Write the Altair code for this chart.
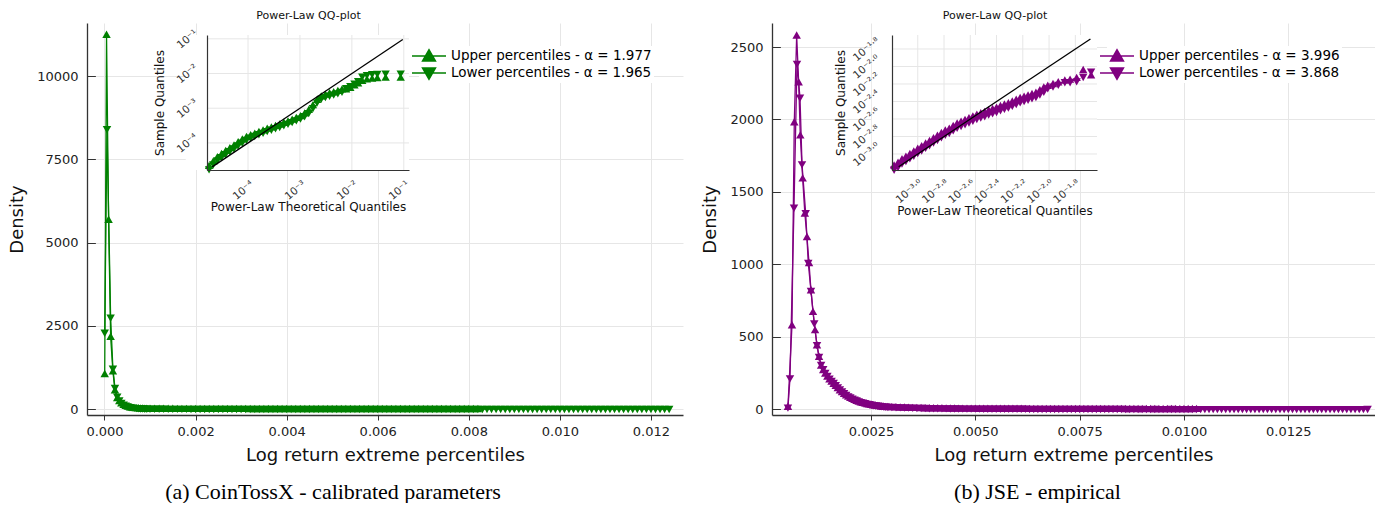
import altair as alt
import pandas as pd

GREEN = "#008000"
PURPLE = "#800080"

# ---------------- main density data (x in units of 1e-4) ----------------
# (a) CoinTossX
CTX_UP_HEAD_X = [0.05, 0.45, 0.9, 1.35, 1.85, 2.3, 2.8, 3.25, 3.7, 4.2, 4.65, 5.1, 5.6, 6.05, 6.5, 7.0, 7.45, 7.9, 8.4, 8.85, 9.3]
CTX_UP_HEAD_Y = [1050, 11240, 5680, 2170, 1130, 560, 330, 235, 170, 125, 92, 70, 53, 41, 32, 25, 20, 16, 13, 11, 9]
CTX_LO_HEAD_X = [0.05, 0.55, 1.35, 1.85, 2.3, 2.8, 3.25, 3.7, 4.2, 4.65, 5.1, 5.6, 6.05, 6.5, 7.0, 7.45, 7.9, 8.4, 8.85, 9.3]
CTX_LO_HEAD_Y = [2290, 8400, 2740, 1210, 630, 370, 255, 180, 132, 98, 74, 56, 43, 34, 27, 21, 17, 14, 11, 9]
CTX_TAIL_X = [10, 11, 12, 13, 14, 15, 16, 17, 18, 19, 20, 21, 22, 23, 24, 25, 26, 27, 28, 29,
              30, 31, 32, 33, 34, 35, 36, 37, 38, 39, 40, 41, 42, 43, 44, 45, 46, 47, 48, 49,
              50, 51, 52, 53, 54, 55, 56, 57, 58, 59, 60, 61, 62, 63, 64, 65, 66, 67, 68, 69,
              70, 71, 72, 73, 74, 75, 76, 77, 78, 79, 80, 81, 82, 83, 84, 85, 86, 87, 88, 89,
              90, 91, 92, 93, 94, 95, 96, 97, 98, 99, 100, 101, 102, 103, 104, 105, 106, 107, 108, 109,
              110, 111, 112, 113, 114, 115, 116, 117, 118, 119, 120, 121, 122, 123, 124]
CTX_UP_TAIL_Y = [8, 7, 6, 6, 5, 5, 4, 4, 4, 3,
                 3, 3, 3, 2, 2, 2, 2, 2, 2, 2,
                 2, 2, 1, 1, 1, 1, 1, 1, 1, 1,
                 1, 1, 1, 1, 1, 1, 1, 1, 1, 1,
                 1, 1, 1, 1, 1, 0, 1, 0, 1, 0,
                 0, 1, 0, 0, 1, 0, 0, 0, 1, 0,
                 0, 0, 0, 0, 0, 0, 0, 0, 0, 0,
                 0, 0, 1]
CTX_LO_TAIL_Y = [8, 7, 7, 6, 5, 5, 4, 4, 4, 3,
                 3, 3, 3, 3, 2, 2, 2, 2, 2, 2,
                 2, 2, 2, 1, 1, 1, 1, 1, 1, 1,
                 1, 1, 1, 1, 1, 1, 1, 1, 1, 1,
                 1, 1, 1, 1, 1, 1, 0, 1, 1, 0,
                 1, 0, 1, 0, 0, 1, 0, 0, 1, 0,
                 0, 0, 1, 0, 0, 0, 0, 1, 0, 0,
                 0, 0, 0, 0, 0, 0, 0, 0, 0, 0,
                 0, 0, 0, 0, 0, 0, 0, 0, 0, 0,
                 0, 0, 0, 0, 0, 0, 0, 0, 0, 0,
                 0, 0, 0, 0, 0, 0, 0, 0, 0, 0,
                 0, 0, 0, 0, 1]

# (b) JSE
JSE_UP_HEAD_X = [5.1, 6.07, 6.62, 7.19, 7.67, 8.06, 8.63, 9.15, 9.66, 10.15, 10.62, 11.1, 11.6, 12.06, 12.55, 13.05,
                 13.55, 14.05, 14.55, 15.05, 15.55, 16.05, 16.55, 17.05, 17.55, 18.05, 18.55, 19.05, 19.55, 20.05,
                 20.55, 21.05, 21.55, 22.05, 22.55, 23.05, 23.55, 24.05, 24.55, 25.05, 25.55, 26.05, 26.55, 27.05,
                 27.55, 28.05, 28.55, 29.05]
JSE_UP_HEAD_Y = [16, 579, 1981, 2579, 2257, 1890, 1593, 1350, 1188, 1009, 820, 671, 545, 441, 361, 300,
                 270, 245, 225, 205, 190, 175, 160, 145, 130, 118, 105, 95, 86, 78,
                 70, 63, 57, 52, 47, 43, 39, 35, 32, 29, 26, 24, 22, 20,
                 18, 16, 15, 14]
JSE_LO_HEAD_X = [5.1, 5.59, 6.55, 7.27, 7.99, 8.47, 9.35, 9.97, 10.62, 11.41, 12.06, 12.55, 13.05, 13.55, 14.05,
                 14.55, 15.05, 15.55, 16.05, 16.55, 17.05, 17.55, 18.05, 18.55, 19.05, 19.55, 20.05, 20.55, 21.05,
                 21.55, 22.05, 22.55, 23.05, 23.55, 24.05, 24.55, 25.05, 25.55, 26.05, 26.55, 27.05, 27.55, 28.05,
                 28.55, 29.05]
JSE_LO_HEAD_Y = [10, 212, 1391, 2384, 2150, 1690, 1352, 1009, 816, 591, 441, 360, 305, 275, 250,
                 228, 210, 195, 180, 165, 150, 135, 122, 110, 98, 88, 80, 72, 65,
                 59, 53, 48, 44, 40, 36, 33, 30, 27, 25, 23, 21, 19, 17,
                 16, 15]
JSE_TAIL_X = [30, 31, 32, 33, 34, 35, 36, 37, 38, 39, 40, 41, 42, 43, 44, 45, 46, 47, 48, 49,
              50, 51, 52, 53, 54, 55, 56, 57, 58, 59, 60, 61, 62, 63, 64, 65, 66, 67, 68, 69,
              70, 71, 72, 73, 74, 75, 76, 77, 78, 79, 80, 81, 82, 83, 84, 85, 86, 87, 88, 89,
              90, 91, 92, 93, 94, 95, 96, 97, 98, 99, 100, 101, 102, 103, 104, 105, 106, 107, 108, 109,
              110, 111, 112, 113, 114, 115, 116, 117, 118, 119, 120, 121, 122, 123, 124, 125, 126, 127, 128, 129,
              130, 131, 132, 133, 134, 135, 136, 137, 138, 139, 140, 141, 142, 143, 144]
JSE_UP_TAIL_Y = [13, 12, 11, 10, 9, 8, 8, 7, 6, 6,
                 5, 5, 5, 4, 4, 4, 3, 3, 3, 3,
                 3, 2, 2, 2, 2, 2, 2, 2, 2, 2,
                 2, 2, 1, 1, 1, 1, 1, 1, 1, 1,
                 1, 1, 1, 1, 1, 1, 1, 1, 1, 1,
                 1, 1, 1, 1, 1, 1, 0, 0, 1, 0,
                 0, 1, 0, 0, 0, 0, 0, 0, 0, 0,
                 0, 0, 0, 1]
JSE_LO_TAIL_Y = [14, 13, 12, 11, 10, 9, 8, 8, 7, 6,
                 6, 5, 5, 5, 4, 4, 4, 3, 3, 3,
                 3, 3, 2, 2, 2, 2, 2, 2, 2, 2,
                 2, 2, 2, 1, 1, 1, 1, 1, 1, 1,
                 1, 1, 1, 1, 1, 1, 1, 1, 1, 1,
                 1, 1, 1, 1, 1, 1, 1, 0, 1, 0,
                 1, 0, 0, 1, 0, 0, 0, 1, 0, 0,
                 0, 0, 0, 0, 0, 0, 0, 0, 0, 0,
                 0, 0, 0, 0, 0, 0, 0, 0, 0, 0,
                 0, 0, 0, 0, 0, 0, 0, 0, 0, 0,
                 0, 0, 0, 0, 0, 0, 0, 0, 0, 0,
                 0, 0, 0, 0, 1]

# ---------------- QQ inset data (log10 values) ----------------
CTX_QQ_X = [-4.75, -4.67, -4.59, -4.51, -4.43, -4.35, -4.27, -4.19, -4.11, -4.03, -3.95, -3.87, -3.79, -3.71,
            -3.63, -3.55, -3.47, -3.39, -3.31, -3.23, -3.15, -3.07, -2.99, -2.91, -2.83, -2.75, -2.67, -2.59,
            -2.51, -2.43, -2.35, -2.27, -2.19,
            -2.11, -2.03, -1.95, -1.88, -1.80, -1.71, -1.61, -1.51, -1.35, -1.06]
CTX_QQ_UP = [-4.66, -4.53, -4.41, -4.32, -4.23, -4.15, -4.07, -3.98, -3.90, -3.83, -3.78, -3.73, -3.68, -3.64,
             -3.59, -3.55, -3.51, -3.47, -3.42, -3.38, -3.33, -3.28, -3.23, -3.15, -3.05, -2.91, -2.76, -2.66,
             -2.61, -2.57, -2.54, -2.50, -2.46,
             -2.46, -2.41, -2.34, -2.28, -2.21, -2.17, -2.15, -2.13, -2.12, -2.12]
CTX_QQ_LO = [-4.76, -4.62, -4.50, -4.41, -4.32, -4.24, -4.16, -4.07, -3.99, -3.91, -3.85, -3.80, -3.75, -3.71,
             -3.66, -3.62, -3.58, -3.54, -3.49, -3.45, -3.40, -3.35, -3.30, -3.23, -3.14, -3.00, -2.84, -2.73,
             -2.68, -2.64, -2.61, -2.57, -2.53,
             -2.42, -2.36, -2.29, -2.22, -2.09, -2.05, -2.02, -2.01, -2.00, -2.00]
CTX_QQ_REF = [-4.69, -1.02]

JSE_QQ_X = [-3.18, -3.15, -3.12, -3.09, -3.06, -3.03, -3.00, -2.97, -2.94, -2.91, -2.88, -2.85, -2.82, -2.79,
            -2.76, -2.73, -2.70, -2.67, -2.64, -2.61, -2.58, -2.55, -2.52, -2.49, -2.46, -2.43, -2.40, -2.37,
            -2.34, -2.31, -2.28, -2.25, -2.22, -2.19, -2.16, -2.13, -2.10, -2.07, -2.04,
            -2.01, -1.97, -1.93, -1.88, -1.84, -1.79, -1.74, -1.68]
JSE_QQ_UP = [-3.13, -3.10, -3.06, -3.03, -3.00, -2.97, -2.94, -2.91, -2.88, -2.85, -2.82, -2.79, -2.76, -2.73,
             -2.71, -2.68, -2.65, -2.63, -2.61, -2.59, -2.57, -2.55, -2.535, -2.52, -2.50, -2.485, -2.47, -2.45,
             -2.435, -2.42, -2.40, -2.38, -2.36, -2.345, -2.33, -2.315, -2.30, -2.27, -2.24,
             -2.22, -2.20, -2.18, -2.16, -2.15, -2.13, -2.04, -2.10]
JSE_QQ_LO = [-3.18, -3.15, -3.11, -3.08, -3.05, -3.02, -2.99, -2.96, -2.93, -2.90, -2.87, -2.84, -2.81, -2.78,
             -2.76, -2.73, -2.70, -2.68, -2.66, -2.64, -2.62, -2.60, -2.585, -2.57, -2.55, -2.535, -2.52, -2.50,
             -2.485, -2.47, -2.45, -2.43, -2.41, -2.395, -2.38, -2.365, -2.35, -2.32, -2.29,
             -2.25, -2.23, -2.21, -2.18, -2.18, -2.17, -2.12, -2.06]
JSE_QQ_REF = [-3.145, -1.685]

CTX_LABELS = ["Upper percentiles - \u03b1 = 1.977", "Lower percentiles - \u03b1 = 1.965"]
JSE_LABELS = ["Upper percentiles - \u03b1 = 3.996", "Lower percentiles - \u03b1 = 3.868"]

CTX_XTICKS = [0.0, 0.002, 0.004, 0.006, 0.008, 0.010, 0.012]
CTX_YTICKS = [0, 2500, 5000, 7500, 10000]
JSE_XTICKS = [0.0025, 0.0050, 0.0075, 0.0100, 0.0125]
JSE_YTICKS = [0, 500, 1000, 1500, 2000, 2500]
CTX_QQ_TICKS = [-4, -3, -2, -1]
JSE_QQ_TICKS = [-3.0, -2.8, -2.6, -2.4, -2.2, -2.0, -1.8]

# marker shapes
TRI_UP = "M0,-1L1,0.75L-1,0.75Z"
TRI_DOWN = "M0,1L1,-0.75L-1,-0.75Z"
# legend symbols: triangle with a thin horizontal bar through it
LEG_UP = "M-2.2,-0.085H2.2V0.085H-2.2ZM0,-1L1,0.75L-1,0.75Z"
LEG_DOWN = "M-2.2,-0.085H2.2V0.085H-2.2ZM0,1L-1,-0.75L1,-0.75Z"

SUP = {"0": "\u2070", "1": "\u00b9", "2": "\u00b2", "3": "\u00b3", "4": "\u2074",
       "5": "\u2075", "6": "\u2076", "7": "\u2077", "8": "\u2078", "9": "\u2079"}


def pow_label(fmt):
    e = f"format(datum.value, '{fmt}')"
    e = f"replace({e}, '\u2212', '\u207b')"
    e = f"replace({e}, '-', '\u207b')"
    e = f"replace({e}, '.', '\u00b7')"
    for d, s in SUP.items():
        e = f"replace({e}, regexp('{d}', 'g'), '{s}')"
    return "'10' + " + e


def main_frame(hx, hy, tx, ty, label):
    xs = list(hx) + list(tx[:len(ty)])
    ys = list(hy) + list(ty)
    return pd.DataFrame({"x": [v * 1e-4 for v in xs], "y": ys, "series": label})


def make_panel(c):
    color = c["color"]
    W, H = c["w"], c["h"]
    up_df = main_frame(c["uhx"], c["uhy"], c["tx"], c["uty"], c["labels"][0])
    lo_df = main_frame(c["lhx"], c["lhy"], c["tx"], c["lty"], c["labels"][1])
    mdf = pd.concat([up_df, lo_df])
    qup = pd.DataFrame({"x": c["qx"], "y": c["qu"]})
    qlo = pd.DataFrame({"x": c["qx"], "y": c["ql"]})
    ref = pd.DataFrame({"x": c["qref"], "y": c["qref"]})
    qxd, qyd = c["qxdom"], c["qydom"]
    bg = pd.DataFrame({"x0": [c["bgx"]], "x1": [qxd[1]], "y0": [qyd[0]], "y1": [qyd[1]]})
    gx = pd.DataFrame({"v": c["qticks"], "a": qyd[0], "b": qyd[1]})
    gy = pd.DataFrame({"v": c["qticks"], "a": qxd[0], "b": qxd[1]})

    legend = alt.Legend(orient="none", legendX=c["legx"], legendY=c["legy"], title=None,
                        fillColor="white", padding=2, labelFont="DejaVu Sans", labelFontSize=13.5,
                        labelColor="black", labelOffset=14, symbolSize=240, symbolOpacity=1,
                        symbolFillColor=color, symbolStrokeWidth=0, rowPadding=2, labelLimit=400)

    xs = alt.Scale(domain=c["xdom"], nice=False, zero=False)
    ys = alt.Scale(domain=c["ydom"], nice=False, zero=False)
    xaxis = alt.Axis(values=c["xticks"], format=c["xfmt"], grid=True, gridColor="#e6e6e6",
                     domainColor="#333333", domainWidth=1.3, tickColor="#333333", tickSize=5,
                     labelFontSize=13, labelColor="#222222", labelPadding=5, labelFlush=False,
                     title="Log return extreme percentiles", titleFontSize=18, titleFontWeight="normal",
                     titleColor="#111111", titlePadding=8)
    yaxis = alt.Axis(values=c["yticks"], format="d", grid=True, gridColor="#e6e6e6",
                     domainColor="#333333", domainWidth=1.3, ticks=False, labelFontSize=13,
                     labelColor="#222222", labelPadding=9, title="Density", titleFontSize=18,
                     titleFontWeight="normal", titleColor="#111111", titlePadding=10)
    tickaxis = alt.Axis(values=c["yticks"], orient="left", offset=-8, tickSize=8, tickColor="#333333",
                        labels=False, domain=False, grid=False, title=None)

    line = alt.Chart(mdf).mark_line(color=color, strokeWidth=1.3).encode(
        x=alt.X("x:Q", scale=xs, axis=xaxis),
        y=alt.Y("y:Q", scale=ys, axis=yaxis),
        detail="series:N")
    pts_up = alt.Chart(up_df).mark_point(filled=True, size=72, color=color, opacity=1, shape=TRI_UP).encode(
        x=alt.X("x:Q", scale=xs, axis=xaxis),
        y=alt.Y("y:Q", scale=ys, axis=tickaxis))
    pts_lo = alt.Chart(lo_df).mark_point(filled=True, size=72, color=color, opacity=1, shape=TRI_DOWN).encode(
        x=alt.X("x:Q", scale=xs, axis=xaxis),
        y=alt.Y("y:Q", scale=ys, axis=tickaxis))
    leg = alt.Chart(mdf).mark_point(filled=True, color=color, opacity=0).encode(
        x=alt.X("x:Q", scale=xs, axis=xaxis),
        y=alt.Y("y:Q", scale=ys, axis=tickaxis),
        shape=alt.Shape("series:N", scale=alt.Scale(domain=c["labels"], range=[LEG_UP, LEG_DOWN]),
                        legend=legend))
    main = alt.layer(line, pts_up, pts_lo, leg).resolve_axis(y="independent")

    qxs = alt.Scale(domain=qxd, range=c["qxr"], nice=False, zero=False)
    qys = alt.Scale(domain=qyd, range=c["qyr"], nice=False, zero=False)
    top_axis = alt.Axis(orient="top", offset=-c["qyr"][1], labels=False, ticks=False, domain=False,
                        grid=False, title="Power-Law QQ-plot", titleFontSize=11, titleFontWeight="normal",
                        titleColor="#111111", titlePadding=15, zindex=1)
    qx_axis = alt.Axis(orient="bottom", offset=c["qyr"][0] - H, values=c["qticks"],
                       labelExpr=pow_label(c["qfmt"]), labelAngle=320, labelAlign="center",
                       labelBaseline="middle", labelPadding=c["qxlp"], labelOffset=c["qxlo"], labelFontSize=10.5,
                       labelColor="#333333", labelOverlap=False, labelFlush=False, ticks=False,
                       domainColor="#333333", domainWidth=1.2, grid=False,
                       title="Power-Law Theoretical Quantiles", titleFontSize=12, titleFontWeight="normal",
                       titleColor="#111111", titlePadding=0, zindex=1)
    qy_axis = alt.Axis(orient="left", offset=-c["qxr"][0], values=c["qticks"],
                       labelExpr=pow_label(c["qfmt"]), labelAngle=320, labelAlign="center",
                       labelBaseline="middle", labelPadding=c["qylp"], labelFontSize=10.5,
                       labelColor="#333333", labelOverlap=False, labelFlush=False, ticks=False,
                       domainColor="#333333", domainWidth=1.2, grid=False,
                       title="Sample Quantiles", titleFontSize=12, titleFontWeight="normal",
                       titleColor="#111111", titlePadding=c["qytp"], zindex=1)

    q_bg = alt.Chart(bg).mark_rect(color="white").encode(
        x=alt.X("x0:Q", scale=qxs, axis=top_axis), x2="x1:Q",
        y=alt.Y("y0:Q", scale=qys, axis=None), y2="y1:Q")
    q_gx = alt.Chart(gx).mark_rule(color="#e6e6e6", strokeWidth=1).encode(
        x=alt.X("v:Q", scale=qxs, axis=None),
        y=alt.Y("a:Q", scale=qys, axis=None), y2="b:Q")
    q_gy = alt.Chart(gy).mark_rule(color="#e6e6e6", strokeWidth=1).encode(
        y=alt.Y("v:Q", scale=qys, axis=None),
        x=alt.X("a:Q", scale=qxs, axis=None), x2="b:Q")
    q_up = alt.Chart(qup).mark_point(filled=True, size=70, color=color, opacity=1, shape=TRI_UP).encode(
        x=alt.X("x:Q", scale=qxs, axis=qx_axis),
        y=alt.Y("y:Q", scale=qys, axis=qy_axis))
    q_lo = alt.Chart(qlo).mark_point(filled=True, size=70, color=color, opacity=1, shape=TRI_DOWN).encode(
        x=alt.X("x:Q", scale=qxs, axis=None),
        y=alt.Y("y:Q", scale=qys, axis=None))
    q_ref = alt.Chart(ref).mark_line(color="black", strokeWidth=1.3).encode(
        x=alt.X("x:Q", scale=qxs, axis=None),
        y=alt.Y("y:Q", scale=qys, axis=None))
    inset = alt.layer(q_bg, q_gx, q_gy, q_up, q_lo, q_ref).resolve_axis(x="independent", y="independent")

    return alt.layer(main, inset).resolve_scale(x="independent", y="independent").properties(
        width=W, height=H,
        title=alt.TitleParams(c["caption"], orient="bottom", anchor="middle", font="Liberation Serif",
                              fontSize=22, fontWeight="normal", color="black", offset=18, dx=c["capdx"]))


left = make_panel(dict(
    color=GREEN, w=596, h=392, labels=CTX_LABELS,
    uhx=CTX_UP_HEAD_X, uhy=CTX_UP_HEAD_Y, lhx=CTX_LO_HEAD_X, lhy=CTX_LO_HEAD_Y,
    tx=CTX_TAIL_X, uty=CTX_UP_TAIL_Y, lty=CTX_LO_TAIL_Y,
    xdom=[-0.000384, 0.012704], ydom=[-180, 11592], xticks=CTX_XTICKS, xfmt=".3f", yticks=CTX_YTICKS,
    qx=CTX_QQ_X, qu=CTX_QQ_UP, ql=CTX_QQ_LO, qref=CTX_QQ_REF,
    qxdom=[-4.79, -0.90], qydom=[-4.78, -0.89], qxr=[120, 322], qyr=[147, 12],
    bgx=-5.2, qticks=CTX_QQ_TICKS, qfmt=".0f", qxlo=-5, qxlp=20, qylp=20, qytp=8,
    legx=332, legy=23, caption="(a) CoinTossX - calibrated parameters", capdx=-52))

right = make_panel(dict(
    color=PURPLE, w=603, h=392, labels=JSE_LABELS,
    uhx=JSE_UP_HEAD_X, uhy=JSE_UP_HEAD_Y, lhx=JSE_LO_HEAD_X, lhy=JSE_LO_HEAD_Y,
    tx=JSE_TAIL_X, uty=JSE_UP_TAIL_Y, lty=JSE_LO_TAIL_Y,
    xdom=[0.000128, 0.014577], ydom=[-41, 2666], xticks=JSE_XTICKS, xfmt=".4f", yticks=JSE_YTICKS,
    qx=JSE_QQ_X, qu=JSE_QQ_UP, ql=JSE_QQ_LO, qref=JSE_QQ_REF,
    qxdom=[-3.196, -1.635], qydom=[-3.183, -1.64], qxr=[120, 325], qyr=[147, 12],
    bgx=-3.35, qticks=JSE_QQ_TICKS, qfmt=".1f", qxlo=-9, qxlp=21, qylp=26, qytp=4,
    legx=335, legy=23, caption="(b) JSE - empirical", capdx=-36))

chart = alt.hconcat(left, right, spacing=18).resolve_scale(shape="independent").resolve_legend(
    shape="independent").configure(
    font="DejaVu Sans", padding={"left": 8, "top": 9, "right": 0, "bottom": 0}
).configure_view(stroke=None)

chart.save("out.html", embed_options={"renderer": "svg", "actions": False})
